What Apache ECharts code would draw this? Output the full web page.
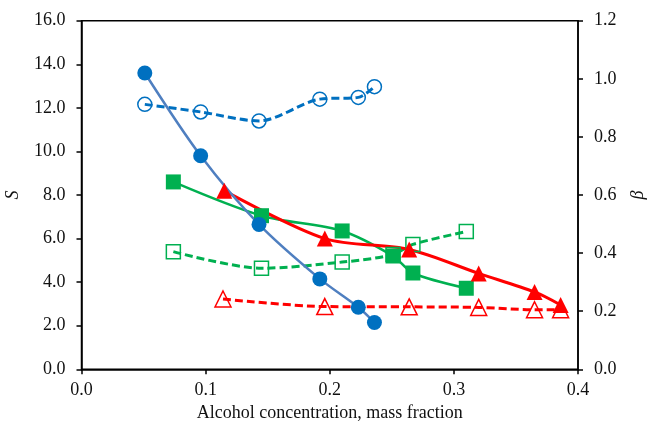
<!DOCTYPE html>
<html>
<head>
<meta charset="utf-8">
<script src="https://cdn.jsdelivr.net/npm/echarts@6/dist/echarts.min.js"></script>
<style>
  html, body { margin: 0; padding: 0; background: #fff; }
  #chart { width: 649px; height: 429px; }
</style>
</head>
<body>
<div id="chart"></div>
<script>
// 数据 (S 左轴, β 右轴)
var xBlue = [0.051, 0.096, 0.143, 0.192, 0.223, 0.236];
var sBlue = [13.6, 9.8, 6.65, 4.15, 2.85, 2.15];
var betaBlue = [0.912, 0.886, 0.855, 0.930, 0.936, 0.973];

var xGreen = [0.074, 0.145, 0.210, 0.251, 0.267, 0.310];
var sGreen = [8.6, 7.05, 6.35, 5.2, 4.42, 3.72];
var betaGreen = [0.405, 0.348, 0.369, 0.395, 0.430, 0.474];

var xRed = [0.115, 0.196, 0.264, 0.320, 0.365, 0.386];
var sRed = [8.2, 6.0, 5.5, 4.4, 3.55, 2.95];
var xRedB = [0.114, 0.196, 0.264, 0.320, 0.365, 0.386];
var betaRed = [0.242, 0.216, 0.215, 0.213, 0.205, 0.205];

function pairs(xs, ys) {
	return xs.map(function (x, i) { return [x, ys[i]]; });
}

var myChart = echarts.init(document.getElementById('chart'));

var tickFont = { fontFamily: 'Liberation Serif', fontSize: 18, color: '#111' };

// 空心标记: 透明填充, 虚线可以穿过
function hollow(c) {
	return { color: 'rgba(255,255,255,0)', borderColor: c, borderWidth: 1.5 };
}

var option = {
	animation: false,
	grid: {
		left: 81.5, right: 71, top: 20.7, bottom: 59.7,
		outerBoundsMode: 'none',
		show: true, borderColor: '#000', borderWidth: 1.5, backgroundColor: 'transparent'
	},
	xAxis: {
		type: 'value', min: 0, max: 0.4, interval: 0.1,
		name: 'Alcohol concentration, mass fraction',
		nameLocation: 'middle', nameGap: 33,
		nameTextStyle: { fontFamily: 'Liberation Serif', fontSize: 18, color: '#111' },
		axisLine: { lineStyle: { color: '#000', width: 1.5 } },
		axisTick: { length: 5, lineStyle: { color: '#000', width: 1.5 } },
		axisLabel: Object.assign({ margin: 12, formatter: function (v) { return v.toFixed(1); } }, tickFont),
		splitLine: { show: false }
	},
	yAxis: [{
		type: 'value', min: 0, max: 16, interval: 2,
		name: 'S', nameLocation: 'middle', nameGap: 59, nameRotate: 90,
		nameTextStyle: { fontFamily: 'Liberation Serif', fontSize: 18, fontStyle: 'italic', color: '#111' },
		axisLine: { show: true, lineStyle: { color: '#000', width: 1.5 } },
		axisTick: { show: true, length: 5, lineStyle: { color: '#000', width: 1.5 } },
		axisLabel: Object.assign({ margin: 16, formatter: function (v) { return v.toFixed(1); } }, tickFont),
		splitLine: { show: false }
	}, {
		type: 'value', min: 0, max: 1.2, interval: 0.2, position: 'right',
		name: 'β', nameLocation: 'middle', nameGap: 51, nameRotate: 90,
		nameTextStyle: { fontFamily: 'Liberation Serif', fontSize: 18, fontStyle: 'italic', color: '#111' },
		axisLine: { show: true, lineStyle: { color: '#000', width: 1.5 } },
		axisTick: { show: true, length: 5, lineStyle: { color: '#000', width: 1.5 } },
		axisLabel: Object.assign({ margin: 16, formatter: function (v) { return v.toFixed(1); } }, tickFont),
		splitLine: { show: false }
	}],
	series: [
		{
			type: 'line', yAxisIndex: 1, data: pairs(xBlue, betaBlue), smooth: 0.3,
			symbol: 'circle', symbolSize: 14,
			lineStyle: { color: '#0070C0', width: 3, type: [8, 4] },
			itemStyle: hollow('#0070C0')
		},
		{
			type: 'line', yAxisIndex: 1, data: pairs(xGreen, betaGreen), smooth: 0.3,
			symbol: 'rect', symbolSize: 14,
			lineStyle: { color: '#00B050', width: 3, type: [8, 4] },
			itemStyle: hollow('#00B050')
		},
		{
			type: 'line', yAxisIndex: 1, data: pairs(xRedB, betaRed), smooth: 0.3,
			symbol: 'triangle', symbolSize: 16,
			lineStyle: { color: '#FF0000', width: 3, type: [8, 4] },
			itemStyle: hollow('#FF0000')
		},
		{
			type: 'line', yAxisIndex: 0, data: pairs(xGreen, sGreen), smooth: 0.3,
			symbol: 'rect', symbolSize: 15,
			lineStyle: { color: '#00B050', width: 2.5 },
			itemStyle: { color: '#00B050' }
		},
		{
			type: 'line', yAxisIndex: 0, data: pairs(xRed, sRed), smooth: 0.3,
			symbol: 'triangle', symbolSize: 16,
			lineStyle: { color: '#FF0000', width: 3 },
			itemStyle: { color: '#FF0000' }
		},
		{
			type: 'line', yAxisIndex: 0, data: pairs(xBlue, sBlue), smooth: 0.3,
			symbol: 'circle', symbolSize: 15,
			lineStyle: { color: '#4F7FC0', width: 2.5 },
			itemStyle: { color: '#0070C0' }
		}
	]
};

myChart.setOption(option);
</script>
</body>
</html>
